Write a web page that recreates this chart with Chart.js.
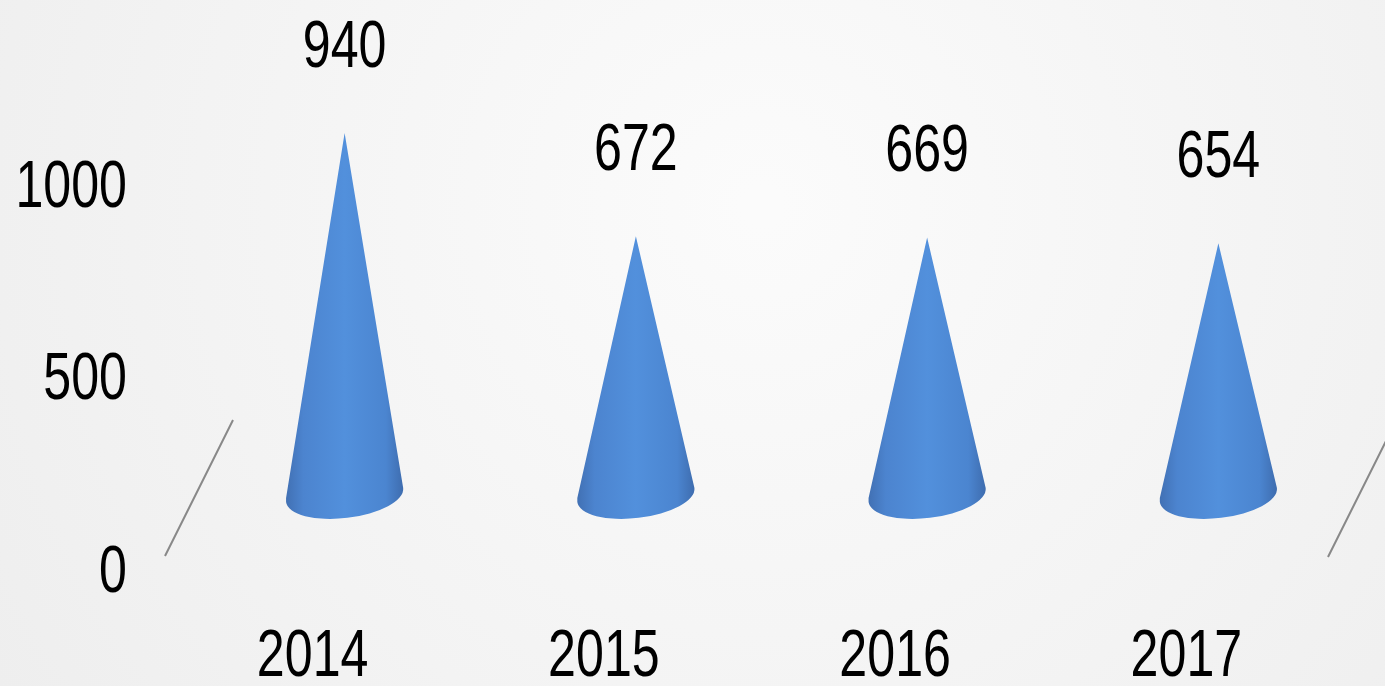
<!DOCTYPE html>
<html>
<head>
<meta charset="utf-8">
<script src="https://cdn.jsdelivr.net/npm/chart.js@4/dist/chart.umd.min.js"></script>
<style>
  html, body { margin: 0; padding: 0; background: #f3f3f3; }
  #wrap { width: 1385px; height: 686px; }
</style>
</head>
<body>
<div id="wrap"><canvas id="chart"></canvas></div>
<script>
const years = ['2014', '2015', '2016', '2017'];
const values = [940, 672, 669, 654];
const yTicks = [0, 500, 1000];

const FONT = '"Liberation Sans", Arial, sans-serif';
const FONT_SIZE = 66;
const SQUEEZE = 0.76; // the reference uses a condensed face
// 3D depth shift of the cones relative to the axis frame
const DX = 32, DY = -73;

// draw narrow text, (x, y) = anchor point and vertical centre of the caps
function narrowText(ctx, text, x, y, align) {
    ctx.save();
    ctx.translate(x, y + FONT_SIZE * 0.716 / 2);
    ctx.scale(SQUEEZE, 1);
    ctx.font = FONT_SIZE + 'px ' + FONT;
    ctx.fillStyle = '#000000';
    ctx.textAlign = align;
    ctx.textBaseline = 'alphabetic';
    ctx.fillText(text, 0, 0);
    ctx.restore();
}

const background = {
    id: 'background',
    beforeDraw(chart) {
        const ctx = chart.ctx;
        const w = chart.width, h = chart.height;
        const g = ctx.createRadialGradient(w * 0.55, h * 0.3, 20, w * 0.55, h * 0.3, w * 0.75);
        g.addColorStop(0, '#fbfbfb');
        g.addColorStop(1, '#ececec');
        ctx.save();
        ctx.fillStyle = g;
        ctx.fillRect(0, 0, w, h);
        ctx.restore();
    }
};

const cones = {
    id: 'cones',
    afterDatasetsDraw(chart) {
        const ctx = chart.ctx;
        const area = chart.chartArea;
        ctx.save();
        // floor depth edges
        ctx.strokeStyle = '#888888';
        ctx.lineWidth = 2;
        ctx.beginPath();
        ctx.moveTo(area.left - 2, area.bottom - 12);
        ctx.lineTo(area.left + 66, area.bottom - 148);
        ctx.moveTo(area.right - 4, area.bottom - 11);
        ctx.lineTo(area.right + 64, area.bottom - 147);
        ctx.stroke();

        const meta = chart.getDatasetMeta(0);
        meta.data.forEach((bar, i) => {
            const cx = bar.x + DX;
            const top = bar.y + DY;
            const by = bar.base + DY;
            const rx = bar.width / 2;
            const ry = 23;
            const rot = -0.12;
            const g = ctx.createLinearGradient(cx - rx, 0, cx + rx, 0);
            g.addColorStop(0, '#4170b3');
            g.addColorStop(0.15, '#4c84cf');
            g.addColorStop(0.5, '#5290dc');
            g.addColorStop(0.85, '#4b85d0');
            g.addColorStop(1, '#3e6cae');
            ctx.fillStyle = g;
            ctx.beginPath();
            ctx.moveTo(cx, top);
            ctx.lineTo(cx - rx * Math.cos(rot), by - rx * Math.sin(rot) - 4);
            ctx.ellipse(cx, by, rx, ry, rot, Math.PI, 0, true);
            ctx.lineTo(cx, top);
            ctx.closePath();
            ctx.fill();

            narrowText(ctx, String(values[i]), cx, top - 90, 'center');
        });
        ctx.restore();
    },
    afterDraw(chart) {
        const ctx = chart.ctx;
        const y = chart.scales.y;
        const x = chart.scales.x;
        y.ticks.forEach(t => {
            narrowText(ctx, String(t.value), y.right - 40, y.getPixelForValue(t.value), 'right');
        });
        x.ticks.forEach((t, i) => {
            narrowText(ctx, years[i], x.getPixelForTick(i), x.top + 84, 'center');
        });
    }
};

const data = {
    labels: years,
    datasets: [{
        data: values,
        backgroundColor: 'rgba(0,0,0,0)',
        borderWidth: 0,
        categoryPercentage: 0.405,
        barPercentage: 1
    }]
};

const config = {
    type: 'bar',
    data,
    options: {
        responsive: false,
        animation: false,
        layout: {
            padding: { top: 183, right: 53, left: 0, bottom: 0 }
        },
        plugins: {
            legend: false,
            tooltip: false
        },
        scales: {
            y: {
                min: 0,
                max: 1000,
                afterBuildTicks(scale) {
                    scale.ticks = yTicks.map(v => ({ value: v }));
                },
                afterFit(scale) {
                    scale.width = 167;
                },
                grid: { display: false, drawTicks: false },
                border: { display: false },
                ticks: { display: false }
            },
            x: {
                afterFit(scale) {
                    scale.height = 118;
                },
                grid: { display: false, drawTicks: false },
                border: { display: false },
                ticks: { display: false }
            }
        }
    },
    plugins: [background, cones]
};

const canvas = document.getElementById('chart');
canvas.width = 1385;
canvas.height = 686;
var myChart = new Chart(canvas, config);
</script>
</body>
</html>
